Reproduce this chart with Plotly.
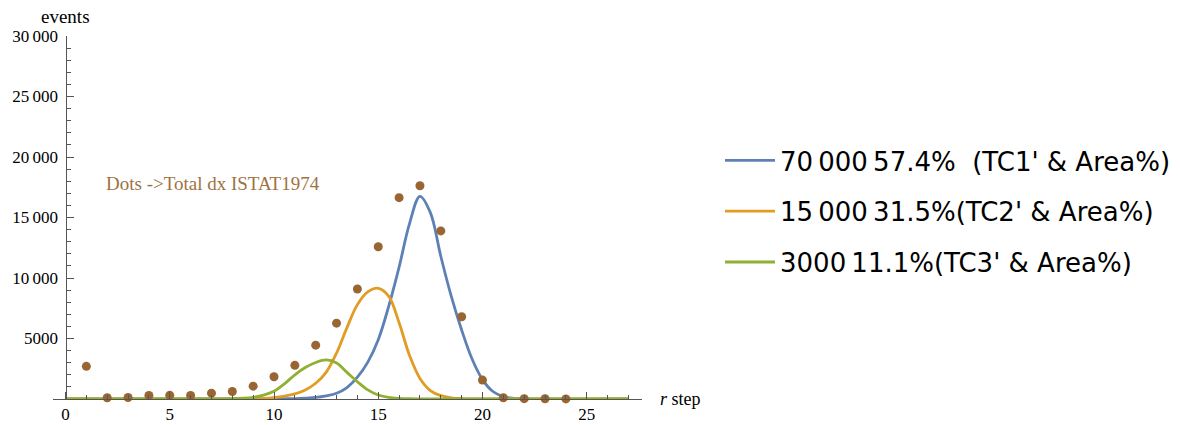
import plotly.graph_objects as go

# ---------------- data ----------------
dot_steps = list(range(1, 25))
dot_events = [2700, 100, 120, 290, 300, 290, 480, 620, 1060, 1840, 2780, 4450,
              6270, 9090, 12580, 16640, 17620, 13890, 6800, 1560, 100, 30, 20, 10]

curve_x = [0, 7, 7.5, 8, 8.5, 9, 9.5, 10, 10.5, 11, 11.5, 12, 12.5, 13, 13.5, 14,
           14.5, 15, 15.5, 16, 16.5, 17, 17.5, 18, 18.5, 19, 19.5, 20, 20.5, 21,
           21.5, 22, 27]
tc1 = [0, 0, 0, 0, 0, 0, 5, 10, 20, 35, 70, 130, 260, 480, 950, 1800,
       3050, 4900, 7650, 10900, 14500, 16750, 15400, 11800, 8500, 5700, 3300, 1600, 620, 200,
       60, 15, 0]
tc2 = [0, 0, 0, 0, 0, 10, 40, 110, 230, 420, 750, 1300, 2200, 3800, 5900, 7800,
       8850, 9150, 8500, 6300, 3600, 1700, 700, 280, 100, 35, 10, 0, 0, 0,
       0, 0, 0]
tc3 = [0, 0, 5, 20, 60, 140, 320, 640, 1250, 2000, 2600, 3020, 3230, 2980, 2200, 1430,
       750, 330, 130, 50, 20, 10, 0, 0, 0, 0, 0, 0, 0, 0,
       0, 0, 0]

series_names = ["70\u2009000\u200957.4%\u00a0 (TC1' & Area%)",
                "15\u2009000\u200931.5%(TC2' & Area%)",
                "3000\u200911.1%(TC3' & Area%)"]
series_colors = ["#5E81B5", "#E19C24", "#8FB032"]

x_tick_vals = [0, 5, 10, 15, 20, 25]
x_tick_text = ["0", "5", "10", "15", "20", "25"]
y_tick_vals = [5000, 10000, 15000, 20000, 25000, 30000]
y_tick_text = ["5000", "10\u2009000", "15\u2009000", "20\u2009000", "25\u2009000", "30\u2009000"]

# ---------------- figure ----------------
X0, X1 = -0.6, 27.65
fig = go.Figure()
for ys, name, col in zip([tc1, tc2, tc3], series_names, series_colors):
    fig.add_trace(go.Scatter(x=curve_x, y=ys, mode="lines", name=name,
                             line=dict(color=col, width=2.8, shape="spline", smoothing=1.0),
                             legendgroup=name, cliponaxis=False))
fig.add_trace(go.Scatter(x=dot_steps, y=dot_events, mode="markers", showlegend=False,
                         marker=dict(color="#996633", size=9), cliponaxis=False))

serif = "Liberation Serif, DejaVu Serif, serif"
axis_col = "#555555"
fig.update_layout(
    width=1181, height=425,
    margin=dict(l=53, r=1181 - 642, t=36, b=26, autoexpand=False),
    plot_bgcolor="white", paper_bgcolor="white",
    showlegend=True,
    legend=dict(x=(720 - 53) / 589, y=(399 - 137) / 363, xanchor="left", yanchor="top",
                font=dict(family="DejaVu Sans", size=26, color="black"),
                itemwidth=50,
                tracegroupgap=14, traceorder="grouped", bgcolor="rgba(0,0,0,0)"),
    xaxis=dict(range=[X0, X1], showline=True, linecolor=axis_col, linewidth=1,
               automargin=False,
               ticks="inside", ticklen=7, tickcolor=axis_col, tickwidth=1,
               tickvals=x_tick_vals, ticktext=x_tick_text,
               minor=dict(tickvals=list(range(0, 28)), ticks="inside", ticklen=4,
                          tickcolor=axis_col, tickwidth=1, showgrid=False),
               showgrid=False, zeroline=False,
               tickfont=dict(family=serif, size=17, color="black")),
    yaxis=dict(range=[0, 30000], anchor="free", position=(0 - X0) / (X1 - X0),
               showline=True, linecolor=axis_col, linewidth=1, automargin=False,
               ticks="inside", ticklen=7, tickcolor=axis_col, tickwidth=1,
               tickvals=y_tick_vals, ticktext=y_tick_text, ticklabelstandoff=4,
               minor=dict(dtick=1000, tick0=0, ticks="inside", ticklen=4,
                          tickcolor=axis_col, tickwidth=1, showgrid=False),
               showgrid=False, zeroline=False,
               tickfont=dict(family=serif, size=17, color="black")),
    annotations=[
        dict(text="events", x=0, xref="x", y=(399 - 16) / 363, yref="paper",
             xanchor="center", yanchor="middle", showarrow=False,
             font=dict(family=serif, size=19, color="black")),
        dict(text="<i>r</i> step", x=(658 - 53) / 589, xref="paper", y=0, yref="y",
             xanchor="left", yanchor="middle", showarrow=False,
             font=dict(family=serif, size=18, color="black")),
        dict(text="Dots ->Total dx ISTAT1974", x=1.85, xref="x", y=17850, yref="y",
             xanchor="left", yanchor="middle", showarrow=False,
             font=dict(family=serif, size=19, color="#A0723F")),
    ],
)

fig.write_html("out.html", config={"displayModeBar": False})
with open("out.html", "r", encoding="utf-8") as f:
    html = f.read()
html = html.replace("<head>", "<head><style>html,body{margin:0;padding:0;overflow:hidden}</style>", 1)
with open("out.html", "w", encoding="utf-8") as f:
    f.write(html)
